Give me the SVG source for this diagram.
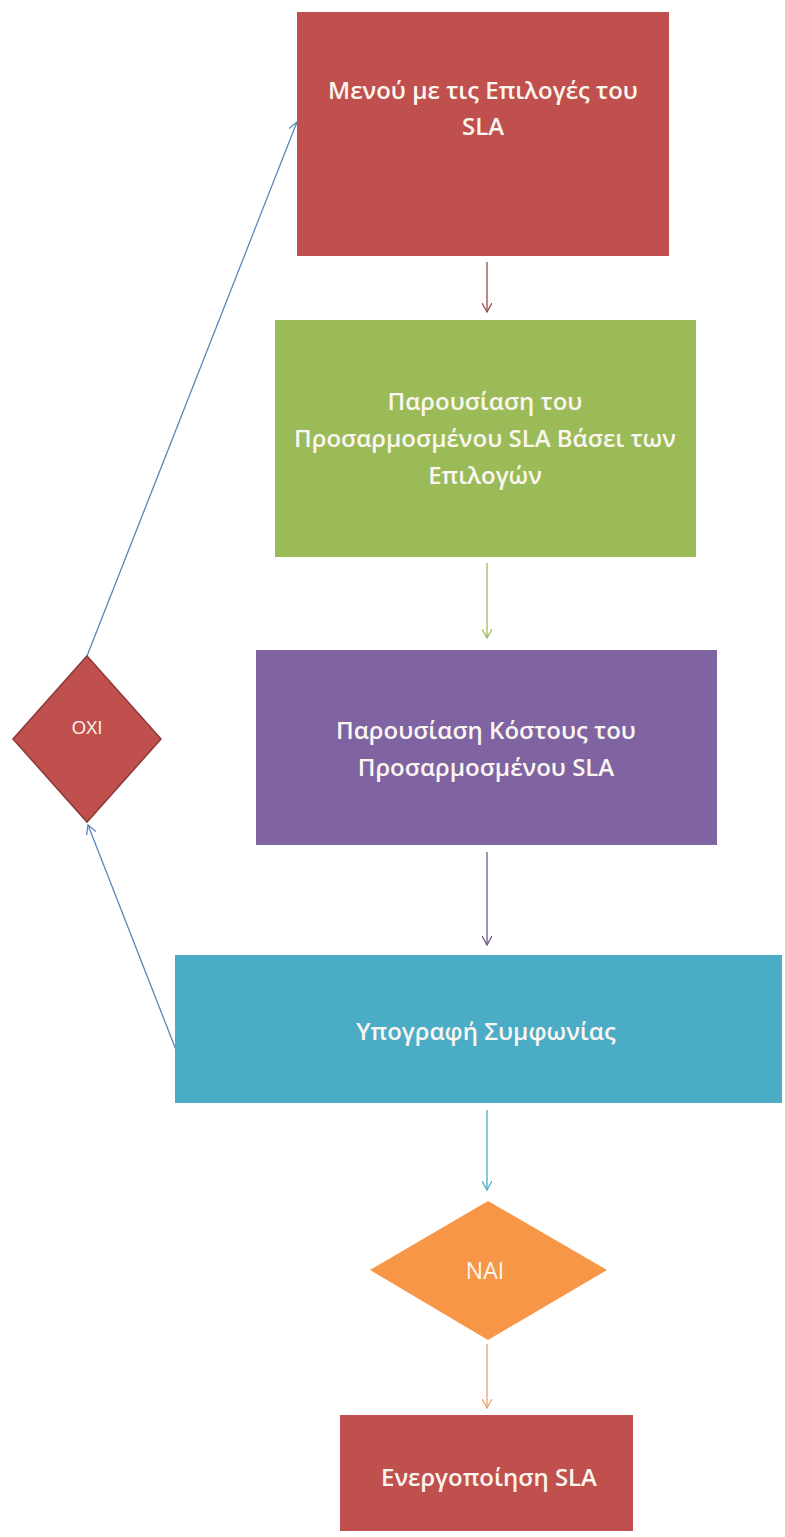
<svg xmlns="http://www.w3.org/2000/svg" width="785" height="1537" viewBox="0 0 785 1537">
  <defs>
    <style>
      .lbl { font-family: "Open Sans", "Noto Sans", "Liberation Sans", sans-serif; fill: #fbf6f0; text-anchor: middle; }
      .big { font-size: 24px; font-weight: 600; }
      .sm { font-size: 19px; }
      .conn { fill: none; stroke-width: 1.3; }
    </style>
    <marker id="ah-red" viewBox="0 0 10 10" refX="9" refY="5" markerWidth="10" markerHeight="10" markerUnits="userSpaceOnUse" orient="auto">
      <path d="M0,0 L9,5 L0,10" fill="none" stroke="#9a4a48" stroke-width="1.3"/>
    </marker>
    <marker id="ah-green" viewBox="0 0 10 10" refX="9" refY="5" markerWidth="10" markerHeight="10" markerUnits="userSpaceOnUse" orient="auto">
      <path d="M0,0 L9,5 L0,10" fill="none" stroke="#9bbb59" stroke-width="1.3"/>
    </marker>
    <marker id="ah-purple" viewBox="0 0 10 10" refX="9" refY="5" markerWidth="10" markerHeight="10" markerUnits="userSpaceOnUse" orient="auto">
      <path d="M0,0 L9,5 L0,10" fill="none" stroke="#6e5a8c" stroke-width="1.3"/>
    </marker>
    <marker id="ah-cyan" viewBox="0 0 10 10" refX="9" refY="5" markerWidth="10" markerHeight="10" markerUnits="userSpaceOnUse" orient="auto">
      <path d="M0,0 L9,5 L0,10" fill="none" stroke="#4bacc6" stroke-width="1.3"/>
    </marker>
    <marker id="ah-orange" viewBox="0 0 10 10" refX="9" refY="5" markerWidth="10" markerHeight="10" markerUnits="userSpaceOnUse" orient="auto">
      <path d="M0,0 L9,5 L0,10" fill="none" stroke="#e8a070" stroke-width="1.3"/>
    </marker>
    <marker id="ah-blue" viewBox="0 0 10 10" refX="9" refY="5" markerWidth="10" markerHeight="10" markerUnits="userSpaceOnUse" orient="auto">
      <path d="M0,0 L9,5 L0,10" fill="none" stroke="#5a86b8" stroke-width="1.3"/>
    </marker>
  </defs>

  <rect width="785" height="1537" fill="#ffffff"/>

  <!-- connectors -->
  <g id="connectors">
    <line class="conn" x1="487" y1="262" x2="487" y2="312" stroke="#9a4a48" marker-end="url(#ah-red)"/>
    <line class="conn" x1="487" y1="563" x2="487" y2="638" stroke="#9bbb59" marker-end="url(#ah-green)"/>
    <line class="conn" x1="487" y1="852" x2="487" y2="945" stroke="#6e5a8c" marker-end="url(#ah-purple)"/>
    <line class="conn" x1="487" y1="1110" x2="487" y2="1190" stroke="#4bacc6" marker-end="url(#ah-cyan)"/>
    <line class="conn" x1="487" y1="1344" x2="487" y2="1408" stroke="#e8a070" marker-end="url(#ah-orange)"/>
    <line class="conn" x1="178" y1="1055" x2="88" y2="825" stroke="#5a86b8" marker-end="url(#ah-blue)"/>
    <line class="conn" x1="87" y1="656" x2="297" y2="122" stroke="#5a86b8" marker-end="url(#ah-blue)"/>
  </g>

  <!-- nodes -->
  <g id="menu">
    <rect x="297" y="12" width="372" height="244" fill="#c0504d"/>
    <text class="lbl big" x="483" y="99">Μενού με τις Επιλογές του</text>
    <text class="lbl big" x="483" y="135">SLA</text>
  </g>

  <g id="present">
    <rect x="275" y="320" width="421" height="237" fill="#9bbb59"/>
    <text class="lbl big" x="485" y="410">Παρουσίαση του</text>
    <text class="lbl big" x="485" y="447">Προσαρμοσμένου  SLA Βάσει των</text>
    <text class="lbl big" x="485" y="484">Επιλογών</text>
  </g>

  <g id="cost">
    <rect x="256" y="650" width="461" height="195" fill="#8064a2"/>
    <text class="lbl big" x="486" y="739">Παρουσίαση Κόστους του</text>
    <text class="lbl big" x="486" y="776">Προσαρμοσμένου SLA</text>
  </g>

  <g id="sign">
    <rect x="175" y="955" width="607" height="148" fill="#4bacc6"/>
    <text class="lbl big" x="486" y="1040">Υπογραφή Συμφωνίας</text>
  </g>

  <g id="no">
    <polygon points="87,656 161,739 87,822 13,739" fill="#c0504d" stroke="#8c3836" stroke-width="1.5"/>
    <text class="lbl sm" x="87" y="734">ΟΧΙ</text>
  </g>

  <g id="yes">
    <polygon points="488,1201 607,1270 488,1340 370,1270" fill="#f79646"/>
    <text class="lbl sm" x="485" y="1279" style="font-size:23px">ΝΑΙ</text>
  </g>

  <g id="activate">
    <rect x="340" y="1415" width="293" height="116" fill="#c0504d"/>
    <text class="lbl big" x="489" y="1486">Ενεργοποίηση SLA</text>
  </g>
</svg>
